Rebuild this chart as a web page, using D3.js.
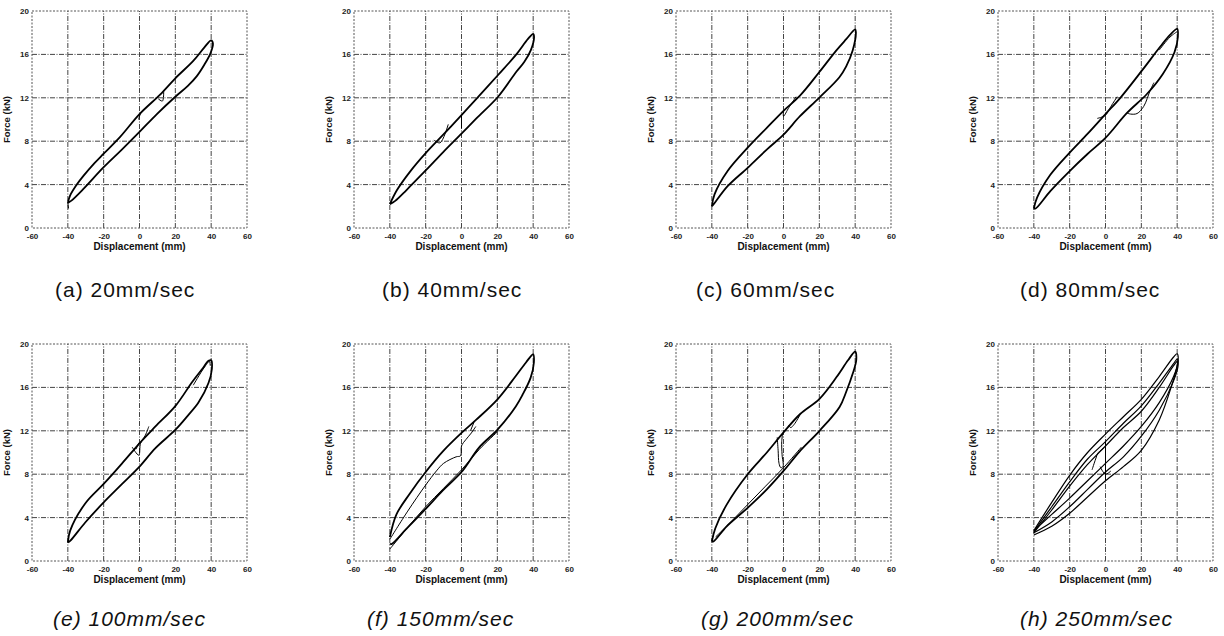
<!DOCTYPE html>
<html lang="en">
<head>
  <meta charset="UTF-8">
  <title>Force - displacement loops</title>
  <style>
    body { margin: 0; background: #fff; }
    .tick text { font-family: "Liberation Sans", Arial, sans-serif; font-weight: bold; font-size: 8px; fill: #222; }
  </style>
</head>
<body>
  <script src="https://d3js.org/d3.v7.min.js"></script>
  <script>
    const WIDTH = 1224;
    const HEIGHT = 636;

    // tick labels shared by all panels
    const xTicks = [-60, -40, -20, 0, 20, 40, 60];
    const yTicks = [0, 4, 8, 12, 16, 20];
    const xGrid = [-40, -20, 0, 20, 40];
    const yGrid = [4, 8, 12, 16];

    const captions = ['(a) 20mm/sec', '(b) 40mm/sec', '(c) 60mm/sec', '(d) 80mm/sec',
                      '(e) 100mm/sec', '(f) 150mm/sec', '(g) 200mm/sec', '(h) 250mm/sec'];

    // (a) 20mm/sec  -- [displacement mm, force kN]
    const aLoop = [[-40,2.3],[-38.7,3.0],[-35,4.0],[-31.3,4.8],[-25,6.0],[-20,6.85],[-10.8,8.4],[0,10.5],[11.5,12.3],[20,13.8],[30,15.4],[36,16.6],[40,17.3],
                   [41,17.0],[39.6,16.1],[36,15.0],[32,14.0],[27,13.1],[20,12.1],[9.7,10.5],[0,8.85],[-10,7.2],[-20,5.6],[-31.3,3.6],[-37.8,2.55],[-40,2.3]];
    const aThin = [[[-0.5,10.0],[0,10.3],[1,10.7]], [[-40,2.3],[-39.6,1.8]], [[10.5,11.9],[12.8,11.7],[13.5,12.6]]];

    // (b) 40mm/sec
    const bLoop = [[-40,2.2],[-36,3.5],[-28.7,5.2],[-20,6.9],[-10.2,8.6],[0,10.4],[8.3,11.9],[20.4,14.1],[30.6,16.0],[37,17.4],[40,17.9],
                   [40.5,17.6],[38.7,16.4],[35,15.3],[30.6,14.4],[20.4,12.1],[8.3,10.1],[0,8.7],[-10.2,7.0],[-20,5.3],[-30.7,3.5],[-37,2.5],[-40,2.2]];
    const bThin = [[[-15.4,8.1],[-12,7.85],[-7.4,9.55]], [[0,10.4],[0,9.2]], [[0,10.4],[1.5,10.7]]];

    // (c) 60mm/sec
    const cLoop = [[-40,2.0],[-38.5,3.1],[-31.2,5.25],[-20,7.4],[-9.2,9.25],[0,10.8],[9.2,12.2],[19.9,14.35],[29.4,16.35],[35,17.4],[40,18.3],
                   [40.4,18.05],[38.6,16.35],[35,14.9],[31.2,13.9],[19.9,12.0],[9.2,10.3],[0,8.6],[-9.2,7.25],[-20,5.55],[-31.2,3.85],[-39.4,2.1],[-40,2.0]];
    const cThin = [[[0,10.8],[0,10.3],[3,11.1],[7,12.1]]];

    // (d) 80mm/sec
    const dLoop = [[-40,1.8],[-38.2,2.8],[-30.8,4.9],[-20,6.95],[-10.2,8.65],[0,10.5],[8.3,12.0],[20.3,14.5],[30.5,16.7],[36,17.8],[40,18.35],
                   [40.4,17.6],[38.5,16.2],[32,14.2],[23.1,12.35],[12,10.6],[0,8.3],[-10.2,6.8],[-20,5.25],[-30.8,3.4],[-39,1.8],[-40,1.8]];
    const dThin = [[[-4.6,10.1],[0,10.4],[3,11.2],[6.5,12.1]], [[12,10.6],[14,10.5],[17.6,10.55],[21.3,11.2],[25,12.7],[27,13.4]],
                   [[30,16.4],[36,17.6],[40,18.1]]];

    // (e) 100mm/sec
    const eLoop = [[-40,1.7],[-38.7,2.8],[-30.3,5.3],[-20,7.1],[-9.7,9.0],[0,10.85],[8.9,12.4],[20.1,14.3],[29.4,16.5],[35,17.7],[38.5,18.45],[40,18.5],
                   [40.4,17.7],[38.5,16.4],[32.9,14.6],[27,13.4],[20.1,12.1],[8.9,10.4],[0,8.7],[-9.7,7.1],[-20,5.4],[-30.3,3.55],[-38.7,1.85],[-40,1.7]];
    const eThin = [[[-4.1,10.5],[-0.4,9.75],[0.6,10.85],[3.3,11.6],[5.2,12.4]], [[-2,10.3],[-0.3,10.9]],
                   [[30,16.2],[36,17.8],[39,18.4],[39.5,18.0]]];

    // (f) 150mm/sec
    const fLoop = [[-40,2.2],[-36.3,4.3],[-28.9,6.2],[-20,8.2],[-10.4,10.1],[0,11.8],[8.1,13.0],[20.1,14.9],[30.3,17.05],[36,18.3],[40,19.05],
                   [40.4,18.3],[38.6,16.9],[34,15.3],[30.3,14.25],[20.1,12.1],[10,10.5],[0,8.2],[-10.4,6.5],[-20,4.8],[-30.8,2.95],[-39.1,1.55],[-40,1.6]];
    const fThin = [[[-40,2.0],[-30,4.6],[-20,7.0],[-14,8.3],[-10,9.0],[-3,9.6],[-0.5,9.7],[0,10.6],[2.5,11.2],[5.5,11.8],[8,12.4]],
                   [[-40,1.1],[-38,1.5],[-30,3.1],[-20,5.0],[-10,6.7],[0,8.4],[10,10.3],[20,11.9]], [[5,12.0],[7,12.8]]];

    // (g) 200mm/sec
    const gLoop = [[-40,1.8],[-38.1,3.0],[-31.7,5.2],[-20,8.0],[-9.3,10.0],[0,11.85],[9.3,13.55],[20.1,14.95],[29.6,16.95],[36,18.5],[40,19.3],
                   [40.6,18.5],[38.7,17.3],[35,15.6],[31.3,14.2],[20.1,12.0],[9.3,10.15],[0,8.3],[-9.3,6.6],[-20,4.9],[-31.7,3.2],[-39.1,1.8],[-40,1.8]];
    const gThin = [[[-3.5,11.4],[-3,10.2],[-2.5,9.0],[-1.5,8.6],[-0.3,8.7],[-0.8,9.8],[-1,11.0],[-0.5,11.7]],
                   [[2.8,12.5],[4,12.3],[6,12.6],[9.3,13.5]],
                   [[-38,2.2],[-30,3.5],[-20,5.2],[-10,6.9],[0,8.6],[10,10.5]]];

    // (h) 250mm/sec, three loops on top of each other
    const hLoopA = [[-40,2.8],[-30,5.4],[-20,7.9],[-10,10.0],[0,11.7],[10,13.3],[20,14.9],[30,17.0],[38,18.8],[40,19.1],
                    [40.5,18.4],[38,17.0],[30,14.6],[20,12.4],[10,10.6],[0,9.0],[-10,7.4],[-20,5.8],[-30,4.3],[-40,2.8]];
    const hLoopB = [[-40,2.7],[-30,5.0],[-20,7.3],[-10,9.4],[0,11.0],[10,12.7],[20,14.3],[30,16.4],[38,18.2],[40,18.6],
                    [40.5,18.0],[38,16.6],[30,13.9],[20,11.5],[10,9.6],[0,8.2],[-10,6.6],[-20,5.0],[-30,3.6],[-40,2.6]];
    const hLoopC = [[-40,2.6],[-30,4.7],[-20,6.9],[-10,8.9],[0,10.6],[10,12.3],[20,13.8],[30,16.0],[38,18.0],[40,18.4],
                    [40,18.0],[37,16.2],[30,13.0],[20,10.2],[10,8.7],[0,7.4],[-10,5.9],[-20,4.4],[-30,3.2],[-40,2.4]];
    const hThin = [[[0,7.4],[0,11.0]], [[-7.5,8.4],[-5.5,9.4],[-4,10.0],[-1,10.4]], [[-3,8.7],[0,8.0],[3,8.3]]];

    const panels = [
      { loops: [aLoop], thin: aThin },
      { loops: [bLoop], thin: bThin },
      { loops: [cLoop], thin: cThin },
      { loops: [dLoop], thin: dThin },
      { loops: [eLoop], thin: eThin },
      { loops: [fLoop], thin: fThin },
      { loops: [gLoop], thin: gThin },
      { loops: [hLoopA, hLoopB, hLoopC], thin: hThin }
    ];

    // layout of the 4 x 2 grid of plots
    const colLeft = [32, 354, 676, 998];
    const rowTop = [11, 344];
    const plotW = 215;
    const plotH = 217;
    const captionX = [55, 382, 696, 1020, 53, 367, 701, 1020];
    const captionY = [297, 626];

    const svg = d3.select('body').append('svg')
      .attr('width', WIDTH)
      .attr('height', HEIGHT)
      .style('display', 'block');

    panels.forEach((p, i) => {
      const col = i % 4;
      const row = Math.floor(i / 4);
      const left = colLeft[col];
      const top = rowTop[row];

      const xScale = d3.scaleLinear().domain([-60, 60]).range([left, left + plotW]);
      const yScale = d3.scaleLinear().domain([0, 20]).range([top + plotH, top]);

      const g = svg.append('g').attr('class', 'panel');

      // grid
      g.selectAll('line.vgrid').data(xGrid).enter().append('line')
        .attr('class', 'vgrid')
        .attr('x1', d => xScale(d)).attr('x2', d => xScale(d))
        .attr('y1', yScale(0)).attr('y2', yScale(20))
        .attr('stroke', '#444').attr('stroke-width', 1)
        .attr('stroke-dasharray', '5,1.5,1,1.5');
      g.selectAll('line.hgrid').data(yGrid).enter().append('line')
        .attr('class', 'hgrid')
        .attr('x1', xScale(-60)).attr('x2', xScale(60))
        .attr('y1', d => yScale(d)).attr('y2', d => yScale(d))
        .attr('stroke', '#444').attr('stroke-width', 1)
        .attr('stroke-dasharray', '5,1.5,1,1.5');
      // frame
      g.append('rect')
        .attr('x', xScale(-60)).attr('y', yScale(20))
        .attr('width', plotW).attr('height', plotH)
        .attr('fill', 'none').attr('stroke', '#555').attr('stroke-width', 1)
        .attr('stroke-dasharray', '2,1.5');

      // axes, plain hyphen for negative numbers like the original
      const xAxis = d3.axisBottom(xScale).tickValues(xTicks).tickSize(0).tickPadding(5).tickFormat(d => String(d));
      const yAxis = d3.axisLeft(yScale).tickValues(yTicks).tickSize(0).tickPadding(3);
      g.append('g').attr('transform', `translate(0,${top + plotH})`).call(xAxis)
        .call(s => s.select('.domain').remove());
      g.append('g').attr('transform', `translate(${left},0)`).call(yAxis)
        .call(s => s.select('.domain').remove());

      g.append('text')
        .attr('x', left + plotW / 2).attr('y', top + plotH + 22)
        .attr('text-anchor', 'middle')
        .attr('font-family', '"Liberation Sans", Arial, sans-serif')
        .attr('font-weight', 'bold').attr('font-size', '10px').attr('fill', '#111')
        .text('Displacement (mm)');
      g.append('text')
        .attr('transform', `translate(${left - 22},${top + plotH / 2}) rotate(-90)`)
        .attr('text-anchor', 'middle')
        .attr('font-family', '"Liberation Sans", Arial, sans-serif')
        .attr('font-weight', 'bold').attr('font-size', '9.5px').attr('fill', '#111')
        .text('Force (kN)');

      // curves
      const line = d3.line()
        .x(d => xScale(d[0]))
        .y(d => yScale(d[1]))
        .curve(d3.curveCatmullRom.alpha(0.5));

      g.selectAll('path.loop').data(p.loops).enter().append('path')
        .attr('class', 'loop')
        .attr('d', line)
        .attr('fill', 'none').attr('stroke', '#000')
        .attr('stroke-width', i === 7 ? 1.2 : 1.8)
        .attr('stroke-linejoin', 'round');
      g.selectAll('path.thin').data(p.thin).enter().append('path')
        .attr('class', 'thin')
        .attr('d', line)
        .attr('fill', 'none').attr('stroke', '#000')
        .attr('stroke-width', 1);

      // caption
      svg.append('text')
        .attr('x', captionX[i]).attr('y', captionY[row])
        .attr('font-family', '"Liberation Sans", Arial, sans-serif')
        .attr('font-size', '21px')
        .attr('letter-spacing', '1px')
        .attr('font-style', row === 1 ? 'italic' : 'normal')
        .attr('fill', '#111')
        .text(captions[i]);
    });
  </script>
</body>
</html>
